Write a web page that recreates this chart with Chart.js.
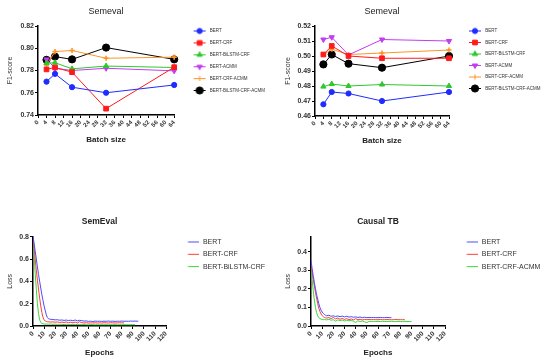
<!DOCTYPE html>
<html>
<head>
<meta charset="utf-8">
<script src="https://cdn.jsdelivr.net/npm/chart.js@4.4.0/dist/chart.umd.min.js"></script>
<style>
body { margin: 0; background: #fff; }
#wrap { position: relative; width: 550px; height: 363px; }
canvas { position: absolute; }
</style>
</head>
<body>
<div id="wrap">
  <canvas id="f1Left" width="275" height="190" style="left:0;top:0"></canvas>
  <canvas id="f1Right" width="275" height="190" style="left:275px;top:0"></canvas>
  <canvas id="lossSem" width="275" height="173" style="left:0;top:190px"></canvas>
  <canvas id="lossTb" width="275" height="173" style="left:275px;top:190px"></canvas>
</div>
<script>
// ---- data ----
const batchSizes = [4, 8, 16, 32, 64];
const modelNames = ['BERT', 'BERT-CRF', 'BERT-BiLSTM-CRF', 'BERT-ACMM', 'BERT-CRF-ACMM', 'BERT-BiLSTM-CRF-ACMM'];

// Semeval F1 (left)
const leftBert = [0.770, 0.777, 0.765, 0.760, 0.767];
const leftCrf = [0.781, 0.7827, 0.7785, 0.7457, 0.783];
const leftBilstmCrf = [0.7866, 0.787, 0.7815, 0.784, 0.7827];
const leftAcmm = [0.790, 0.782, 0.780, 0.782, 0.7797];
const leftCrfAcmm = [0.785, 0.797, 0.798, 0.791, 0.792];
const leftBilstmCrfAcmm = [0.7896, 0.7925, 0.790, 0.8006, 0.790];

// Semeval F1 (right)
const rightBert = [0.4678, 0.476, 0.475, 0.470, 0.476];
const rightCrf = [0.501, 0.5067, 0.500, 0.4985, 0.4985];
const rightBilstmCrf = [0.4796, 0.4813, 0.480, 0.481, 0.480];
const rightAcmm = [0.511, 0.5125, 0.5007, 0.511, 0.510];
const rightCrfAcmm = [0.501, 0.5045, 0.501, 0.502, 0.504];
const rightBilstmCrfAcmm = [0.4944, 0.501, 0.4949, 0.4922, 0.500];

// SemEval loss
const semEpochBert = [0,1,2,3,4,5,6,7,8,9,10,11,12,13,14,15,16,18,20,22,24,26,28,30,32,34,36,38,40,42,44,46,48,50,52,54,56,58,60,62,64,66,68,70,72,74,76,78,80,82,84,86,88,90,92,94,95];
const semLossBert = [0.80,0.74,0.67,0.60,0.53,0.46,0.40,0.34,0.28,0.23,0.18,0.14,0.10,0.075,0.065,0.061,0.060,0.058,0.055,0.056,0.052,0.054,0.050,0.053,0.049,0.052,0.047,0.054,0.046,0.051,0.048,0.044,0.046,0.041,0.043,0.040,0.044,0.042,0.043,0.041,0.043,0.042,0.044,0.042,0.043,0.041,0.043,0.042,0.044,0.042,0.043,0.042,0.044,0.043,0.044,0.043,0.043];
const semEpochCrf = [0,1,2,3,4,5,6,7,8,9,10,11,12,13,14,16,18,20,22,24,26,28,30,32,34,36,38,40,42,44,46,48,50,52,54,56,58,60,62,64,66,68,70,72,74,76,78,80,82];
const semLossCrf = [0.80,0.70,0.60,0.50,0.41,0.33,0.25,0.18,0.12,0.08,0.055,0.045,0.040,0.038,0.037,0.036,0.037,0.034,0.036,0.032,0.035,0.031,0.036,0.030,0.034,0.029,0.035,0.028,0.038,0.030,0.027,0.030,0.026,0.028,0.027,0.029,0.027,0.028,0.027,0.029,0.028,0.027,0.029,0.028,0.027,0.028,0.029,0.028,0.028];
const semEpochBil = [0,1,2,3,4,5,6,7,8,9,10,12,14,16,18,20,22,24,26,28,30,32,34,36,38,40,42,44,46,48,50,52,54,56,58,60,62,64,66,68,70,72,74,76,78,80,82,84,86,88,90,92];
const semLossBil = [0.80,0.63,0.47,0.33,0.20,0.11,0.055,0.032,0.024,0.020,0.018,0.017,0.016,0.018,0.015,0.017,0.014,0.016,0.015,0.013,0.016,0.014,0.013,0.015,0.012,0.014,0.013,0.012,0.013,0.012,0.011,0.013,0.012,0.011,0.012,0.011,0.012,0.011,0.012,0.011,0.012,0.011,0.012,0.011,0.012,0.011,0.012,0.011,0.012,0.011,0.012,0.011];

// Causal TB loss
const tbEpochBert = [0,1,2,3,4,5,6,7,8,9,10,11,12,13,14,16,18,20,22,24,26,28,30,32,34,36,38,40,42,44,46,48,50,52,54,56,58,60,62,64,66,68,70,72];
const tbLossBert = [0.35,0.31,0.27,0.235,0.20,0.17,0.145,0.12,0.10,0.085,0.075,0.068,0.062,0.058,0.055,0.058,0.052,0.055,0.051,0.054,0.050,0.053,0.049,0.052,0.048,0.050,0.047,0.049,0.046,0.048,0.045,0.047,0.045,0.046,0.045,0.046,0.045,0.045,0.046,0.045,0.045,0.046,0.045,0.045];
const tbEpochCrf = [0,1,2,3,4,5,6,7,8,9,10,11,12,13,14,16,18,20,22,24,26,28,30,32,34,36,38,40,42,44,46,48,50,52,54,56,58,60,62,64,66,68,70,72,74,76,78,80,82,84];
const tbLossCrf = [0.33,0.29,0.25,0.215,0.18,0.15,0.12,0.095,0.078,0.065,0.056,0.050,0.046,0.044,0.043,0.045,0.040,0.046,0.038,0.043,0.036,0.041,0.035,0.040,0.034,0.038,0.033,0.039,0.034,0.036,0.033,0.035,0.034,0.035,0.034,0.035,0.034,0.034,0.035,0.034,0.034,0.035,0.034,0.034,0.034,0.035,0.034,0.034,0.034,0.034];
const tbEpochAcmm = [0,1,2,3,4,5,6,7,8,9,10,11,12,14,16,18,20,22,24,26,28,30,32,34,36,38,40,42,44,46,48,50,52,54,56,58,60,62,64,66,68,70,72,74,76,78,80,82,84,86,88,90];
const tbLossAcmm = [0.32,0.25,0.19,0.14,0.10,0.072,0.055,0.045,0.040,0.037,0.035,0.034,0.035,0.033,0.036,0.031,0.034,0.026,0.033,0.029,0.032,0.027,0.031,0.028,0.030,0.026,0.019,0.028,0.024,0.027,0.023,0.018,0.025,0.024,0.025,0.024,0.025,0.024,0.025,0.024,0.025,0.024,0.025,0.024,0.024,0.025,0.024,0.024,0.025,0.024,0.024,0.024];

// ---- styles ----
const FONT = 'Arial, "Liberation Sans", sans-serif';
Chart.defaults.font.family = FONT;
Chart.defaults.color = '#333';

const markerStyles = [
  {color: '#1f2bff', style: 'circle', radius: 2.6, rotation: 0},
  {color: '#ff1a1a', style: 'rect', radius: 3.3, rotation: 0},
  {color: '#2ec82e', style: 'triangle', radius: 3, rotation: 0},
  {color: '#c23cf0', style: 'triangle', radius: 3, rotation: 180},
  {color: '#ff9326', style: 'crossRot', radius: 2.6, rotation: 45},
  {color: '#000000', style: 'circle', radius: 3.6, rotation: 0}
];
const lossColors = ['#4b4bff', '#ff3b3b', '#38d838'];

function toPoints(xs, ys) {
  return xs.map((x, i) => ({x: x, y: ys[i]}));
}

// small legend picture: line with marker on it
function makeIcon(color, marker, w, x0, x1) {
  const c = document.createElement('canvas');
  c.width = w;
  c.height = 11;
  const g = c.getContext('2d');
  g.strokeStyle = color;
  g.fillStyle = color;
  g.lineWidth = 1;
  g.beginPath();
  g.moveTo(x0, 5.5);
  g.lineTo(x1, 5.5);
  g.stroke();
  if (marker) {
    Chart.helpers.drawPoint(g, {pointStyle: marker.style, radius: marker.radius, rotation: marker.rotation, borderWidth: 1}, (x0 + x1) / 2, 5.5);
  }
  return c;
}

function buildOptions(p) {
  return {
    responsive: false,
    animation: false,
    layout: {padding: {left: 0, right: 0, top: 0, bottom: p.padBottom}},
    plugins: {
      title: {
        display: true, text: p.title, fullSize: false, color: '#222',
        font: {size: p.titleSize, weight: p.titleWeight},
        padding: {top: p.titleTop, bottom: p.titleBottom}
      },
      legend: {
        position: 'right', align: 'start', fullSize: true, maxWidth: p.legendWidth,
        title: {display: true, text: '', font: {size: 1, lineHeight: 1}, padding: {top: p.legendTop - 1, bottom: 0}},
        labels: {
          usePointStyle: true, pointStyleWidth: p.iconW, padding: p.legendGap,
          color: '#333', font: {size: p.legendSize},
          generateLabels: chart => chart.data.datasets.map((ds, i) => ({
            text: ds.label, pointStyle: p.icons[i], rotation: 0, datasetIndex: i,
            hidden: !chart.isDatasetVisible(i), fontColor: '#333', lineWidth: 0,
            strokeStyle: 'rgba(0,0,0,0)', fillStyle: 'rgba(0,0,0,0)'
          }))
        }
      },
      tooltip: {enabled: false}
    },
    scales: {
      x: {
        type: 'linear', min: p.xMin, max: p.xMax,
        afterFit: s => { s.height = p.xHeight; },
        border: {color: '#000', width: 1.5},
        grid: {drawOnChartArea: false, color: '#000', tickLength: 3, lineWidth: 1},
        ticks: {stepSize: p.xStep, autoSkip: false, maxRotation: 45, minRotation: 45, padding: 1,
          color: '#333', font: {size: p.xTickSize, weight: 'bold'}},
        title: {display: true, text: p.xTitle, color: '#222', font: {size: 8, weight: 'bold'}, padding: {top: 4, bottom: 4}}
      },
      y: {
        min: p.yMin, max: p.yMax,
        afterFit: s => { s.width = p.yWidth; },
        border: {color: '#000', width: 1.5},
        grid: {drawOnChartArea: false, color: '#000', tickLength: 3, lineWidth: 1},
        ticks: {stepSize: p.yStep, includeBounds: false, padding: 1, color: '#333',
          font: {size: 7, weight: 'bold'}, callback: v => v.toFixed(p.yDigits)},
        title: {display: true, text: p.yTitle, color: '#333', font: {size: 7}, padding: {top: p.yTitlePad, bottom: 0}}
      }
    }
  };
}

function f1Datasets(series) {
  return series.map((ys, i) => {
    const m = markerStyles[i];
    return {
      label: modelNames[i],
      data: toPoints(batchSizes, ys),
      borderColor: m.color, backgroundColor: m.color, borderWidth: 1,
      pointStyle: m.style, pointRadius: m.radius, pointRotation: m.rotation,
      pointBorderWidth: m.style === 'crossRot' ? 1.6 : 1, pointBorderColor: m.color, pointBackgroundColor: m.color,
      tension: 0, clip: false
    };
  });
}

const f1Icons = w => markerStyles.map(m => makeIcon(m.color, m, w, w - 14, w - 2));

// ---- top left ----
new Chart(document.getElementById('f1Left'), {
  type: 'line',
  data: {datasets: f1Datasets([leftBert, leftCrf, leftBilstmCrf, leftAcmm, leftCrfAcmm, leftBilstmCrfAcmm])},
  options: buildOptions({
    title: 'Semeval', titleSize: 9, titleWeight: 'normal', titleTop: 6, titleBottom: 9.2,
    padBottom: 41.2, legendWidth: 105, legendTop: 21.35, legendGap: 7.4, legendSize: 4.5,
    iconW: 26, icons: f1Icons(26),
    xMin: 0, xMax: 64, xStep: 4, xHeight: 33.8, xTickSize: 6, xTitle: 'Batch size',
    yMin: 0.74, yMax: 0.82, yStep: 0.02, yDigits: 2, yWidth: 38, yTitle: 'F1-score', yTitlePad: 5.8
  })
});

// ---- top right ----
new Chart(document.getElementById('f1Right'), {
  type: 'line',
  data: {datasets: f1Datasets([rightBert, rightCrf, rightBilstmCrf, rightAcmm, rightCrfAcmm, rightBilstmCrfAcmm])},
  options: buildOptions({
    title: 'Semeval', titleSize: 9, titleWeight: 'normal', titleTop: 6, titleBottom: 9.2,
    padBottom: 40.2, legendWidth: 101, legendTop: 21.75, legendGap: 7, legendSize: 4.5,
    iconW: 27, icons: f1Icons(27),
    xMin: 0, xMax: 64, xStep: 4, xHeight: 33.8, xTickSize: 6, xTitle: 'Batch size',
    yMin: 0.46, yMax: 0.52, yStep: 0.01, yDigits: 2, yWidth: 40, yTitle: 'F1-score', yTitlePad: 9.1
  })
});

// ---- loss charts ----
function lossDatasets(names, xsList, ysList) {
  return names.map((name, i) => ({
    label: name,
    data: toPoints(xsList[i], ysList[i]),
    borderColor: lossColors[i], borderWidth: 1, pointRadius: 0, tension: 0
  }));
}
const lossIcons = lossColors.map(c => makeIcon(c, null, 28, 16.5, 28));

new Chart(document.getElementById('lossSem'), {
  type: 'line',
  data: {datasets: lossDatasets(['BERT', 'BERT-CRF', 'BERT-BiLSTM-CRF'],
    [semEpochBert, semEpochCrf, semEpochBil], [semLossBert, semLossCrf, semLossBil])},
  options: buildOptions({
    title: 'SemEval', titleSize: 8.5, titleWeight: 'bold', titleTop: 27, titleBottom: 9.5,
    padBottom: 1.2, legendWidth: 110, legendTop: 43.2, legendGap: 5.3, legendSize: 7,
    iconW: 28, icons: lossIcons,
    xMin: 0, xMax: 120, xStep: 10, xHeight: 35.8, xTickSize: 6.5, xTitle: 'Epochs',
    yMin: 0, yMax: 0.8, yStep: 0.2, yDigits: 1, yWidth: 33, yTitle: 'Loss', yTitlePad: 5.8
  })
});

new Chart(document.getElementById('lossTb'), {
  type: 'line',
  data: {datasets: lossDatasets(['BERT', 'BERT-CRF', 'BERT-CRF-ACMM'],
    [tbEpochBert, tbEpochCrf, tbEpochAcmm], [tbLossBert, tbLossCrf, tbLossAcmm])},
  options: buildOptions({
    title: 'Causal TB', titleSize: 8.5, titleWeight: 'bold', titleTop: 27, titleBottom: 9.5,
    padBottom: 1.2, legendWidth: 105, legendTop: 43.2, legendGap: 5.3, legendSize: 7,
    iconW: 28, icons: lossIcons,
    xMin: 0, xMax: 120, xStep: 10, xHeight: 35.8, xTickSize: 6.5, xTitle: 'Epochs',
    yMin: 0, yMax: 0.48, yStep: 0.1, yDigits: 1, yWidth: 36, yTitle: 'Loss', yTitlePad: 9.1
  })
});
</script>
</body>
</html>
